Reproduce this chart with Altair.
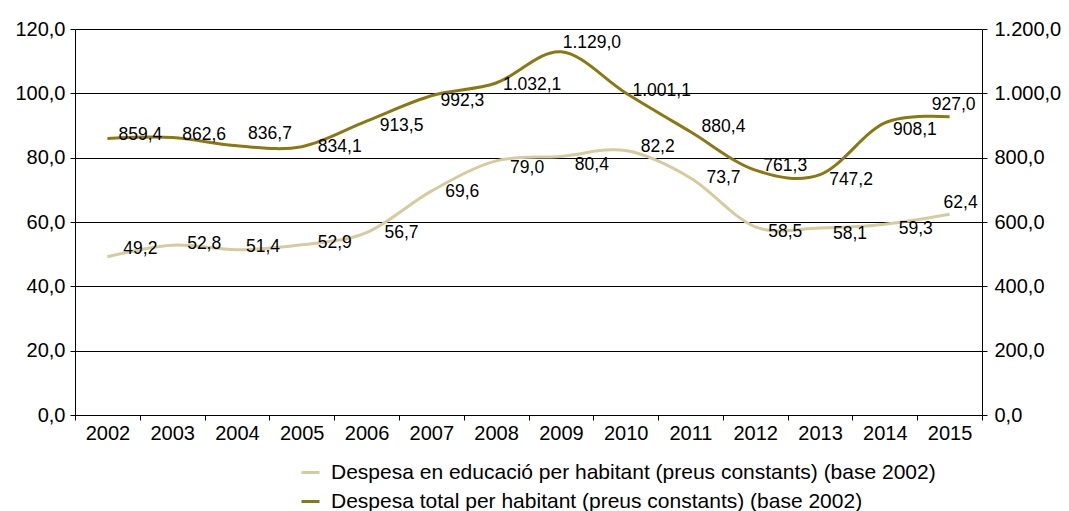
import altair as alt
import pandas as pd

years = [str(y) for y in range(2002, 2016)]
edu_values = [49.2, 52.8, 51.4, 52.9, 56.7, 69.6, 79.0, 80.4, 82.2, 73.7, 58.5, 58.1, 59.3, 62.4]
total_values = [859.4, 862.6, 836.7, 834.1, 913.5, 992.3, 1032.1, 1129.0, 1001.1, 880.4, 761.3, 747.2, 908.1, 927.0]

edu_name = "Despesa en educació per habitant (preus constants) (base 2002)"
total_name = "Despesa total per habitant (preus constants) (base 2002)"

# label offsets (pixels) relative to each point, as placed in the original
edu_label_dx = [33, 32, 26, 33, 35, 31, 31, 31, 32, 33, 30, 30, 31, 11]
edu_label_dy = [-8, -1, -3, -2, 0, 1, 7, 9, -4, 0, 5, 6, 5, -11]
total_label_dx = [33, 32, 33, 38, 35, 31, 36, 31, 36, 33, 30, 31, 30, 4]
total_label_dy = [-4, -3, -12, 0, 5, 5, 2, -9, -2, -5, -4, 5, 7, -12]

light = "#d5cb9f"
dark = "#8a7912"

edu_df = pd.DataFrame({"year": years, "value": edu_values, "serie": edu_name,
                       "ldx": edu_label_dx, "ldy": edu_label_dy})
tot_df = pd.DataFrame({"year": years, "value": total_values, "serie": total_name,
                       "ldx": total_label_dx, "ldy": total_label_dy})

x_enc = alt.X("year:O", sort=years,
              scale=alt.Scale(type="band", paddingInner=0, paddingOuter=0),
              axis=alt.Axis(title=None, labelAngle=0, tickBand="extent", labelFontSize=20,
                            labelColor="black", domainColor="black", tickColor="black",
                            tickSize=5, labelPadding=3, grid=False))

color_enc = alt.Color("serie:N",
                      scale=alt.Scale(domain=[edu_name, total_name], range=[light, dark]),
                      legend=alt.Legend(title=None, orient="none", legendX=225, legendY=433,
                                        direction="vertical", symbolType="stroke",
                                        symbolSize=324, symbolStrokeWidth=3,
                                        labelFontSize=21, labelColor="black",
                                        labelLimit=1000, labelOffset=10, rowPadding=7,
                                        padding=0))

left_axis = alt.Axis(title=None, values=[0, 20, 40, 60, 80, 100, 120], format=",.1f",
                     labelFontSize=20, labelColor="black", domainColor="black",
                     tickColor="black", tickSize=5, labelPadding=5,
                     grid=True, gridColor="black", gridWidth=1, gridOpacity=1)
right_axis = alt.Axis(title=None, orient="right", values=[0, 200, 400, 600, 800, 1000, 1200],
                      format=",.1f", labelFontSize=20, labelColor="black", domainColor="black",
                      tickColor="black", tickSize=5, labelPadding=7, grid=False)

edu_base = alt.Chart(edu_df)
edu_line = edu_base.mark_line(interpolate="cardinal", tension=0, strokeWidth=3).encode(
    x=x_enc,
    y=alt.Y("value:Q", scale=alt.Scale(domain=[0, 120], nice=False), axis=left_axis),
    color=color_enc,
)
edu_text = edu_base.mark_text(fontSize=17.5, color="black", baseline="middle", align="center",
                              dx=alt.ExprRef(expr="datum.ldx"), dy=alt.ExprRef(expr="datum.ldy")).encode(
    x=x_enc,
    y=alt.Y("value:Q", scale=alt.Scale(domain=[0, 120], nice=False), axis=left_axis),
    text=alt.Text("value:Q", format=",.1f"),
)

tot_base = alt.Chart(tot_df)
tot_line = tot_base.mark_line(interpolate="cardinal", tension=0, strokeWidth=3).encode(
    x=x_enc,
    y=alt.Y("value:Q", scale=alt.Scale(domain=[0, 1200], nice=False), axis=right_axis),
    color=color_enc,
)
tot_text = tot_base.mark_text(fontSize=17.5, color="black", baseline="middle", align="center",
                              dx=alt.ExprRef(expr="datum.ldx"), dy=alt.ExprRef(expr="datum.ldy")).encode(
    x=x_enc,
    y=alt.Y("value:Q", scale=alt.Scale(domain=[0, 1200], nice=False), axis=right_axis),
    text=alt.Text("value:Q", format=",.1f"),
)

left = alt.layer(edu_line, edu_text)
right = alt.layer(tot_line, tot_text)

chart = alt.layer(left, right).resolve_scale(y="independent").properties(
    width=907, height=386,
    autosize=alt.AutoSizeParams(type="none"),
    padding={"left": 75, "top": 29, "right": 87, "bottom": 96},
).configure(
    font="Liberation Sans",
    locale={"number": {"decimal": ",", "thousands": ".", "grouping": [3], "currency": ["", " €"]}},
).configure_view(stroke=None)

chart.save("out.html", embed_options={"renderer": "svg", "actions": False})
